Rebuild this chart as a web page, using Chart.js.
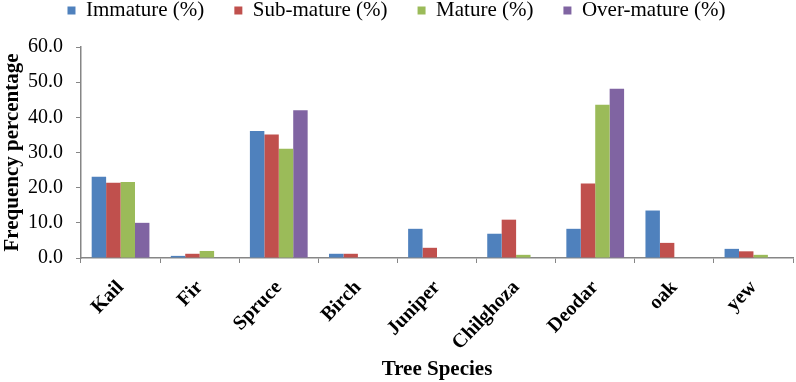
<!DOCTYPE html>
<html>
<head>
<meta charset="utf-8">
<script src="https://cdn.jsdelivr.net/npm/chart.js@4"></script>
<style>
    html, body { margin: 0; padding: 0; background: #fff; }
    #wrap { width: 796px; height: 382px; }
</style>
</head>
<body>
<div id="wrap"><canvas id="myChart"></canvas></div>
<script>
const species = ['Kail', 'Fir', 'Spruce', 'Birch', 'Juniper', 'Chilghoza', 'Deodar', 'oak', 'yew'];
const immature = [23.1, 0.6, 36.1, 1.2, 8.3, 6.9, 8.3, 13.5, 2.6];
const subMature = [21.4, 1.2, 35.1, 1.2, 2.9, 10.9, 21.2, 4.3, 1.9];
const mature = [21.6, 2.0, 31.1, 0, 0, 0.9, 43.6, 0, 0.9];
const overMature = [10.0, 0, 42.0, 0, 0, 0, 48.1, 0, 0];
const yTicks = [0, 10, 20, 30, 40, 50, 60];

const axisGray = '#868686';
const serif = '"Liberation Serif", "Times New Roman", serif';

const ctx = document.getElementById('myChart');
const chart = new Chart(ctx, {
    type: 'bar',
    data: {
        labels: species,
        datasets: [
            { label: 'Immature (%)', data: immature, backgroundColor: '#4F81BD' },
            { label: 'Sub-mature (%)', data: subMature, backgroundColor: '#C0504D' },
            { label: 'Mature (%)', data: mature, backgroundColor: '#9BBB59' },
            { label: 'Over-mature (%)', data: overMature, backgroundColor: '#8064A2' }
        ]
    },
    options: {
        responsive: true,
        maintainAspectRatio: false,
        animation: false,
        categoryPercentage: 0.73,
        barPercentage: 1.0,
        // negative top so the wide legend spacing doesn't push the legend down
        layout: { padding: { left: 0, right: 3, top: -30, bottom: 0 } },
        plugins: {
            tooltip: { enabled: false },
            legend: {
                position: 'top',
                labels: {
                    font: { family: serif, size: 21 },
                    color: '#000',
                    boxWidth: 8,
                    boxHeight: 8,
                    padding: 30
                }
            }
        },
        scales: {
            x: {
                afterFit: axis => { axis.height = 124; },
                grid: {
                    display: true,
                    drawOnChartArea: false,
                    drawTicks: true,
                    tickLength: 5,
                    color: axisGray,
                    offset: true
                },
                border: { color: axisGray, width: 1.5 },
                ticks: {
                    font: { family: serif, size: 20, weight: 'bold' },
                    color: '#000',
                    maxRotation: 46,
                    minRotation: 46,
                    padding: 13
                },
                title: {
                    display: true,
                    text: 'Tree Species',
                    font: { family: serif, size: 21, weight: 'bold' },
                    color: '#000',
                    padding: { top: 0, bottom: 0 }
                }
            },
            y: {
                min: 0,
                max: 60,
                afterFit: axis => { axis.width = 81; },
                afterBuildTicks: axis => { axis.ticks = yTicks.map(v => ({ value: v })); },
                grid: {
                    display: true,
                    drawOnChartArea: false,
                    drawTicks: true,
                    tickLength: 5,
                    color: axisGray
                },
                border: { color: axisGray, width: 1.5 },
                ticks: {
                    font: { family: serif, size: 20 },
                    color: '#000',
                    padding: 13,
                    callback: v => Number(v).toFixed(1)
                },
                title: {
                    display: true,
                    text: 'Frequency percentage',
                    font: { family: serif, size: 21, weight: 'bold' },
                    color: '#000',
                    padding: 0
                }
            }
        }
    }
});

// shrink the legend box height so the plot top lands where the original has it
const baseFit = chart.legend.fit;
chart.legend.fit = function () {
    baseFit.call(this);
    this.height = 77;
};
chart.update();
</script>
</body>
</html>
